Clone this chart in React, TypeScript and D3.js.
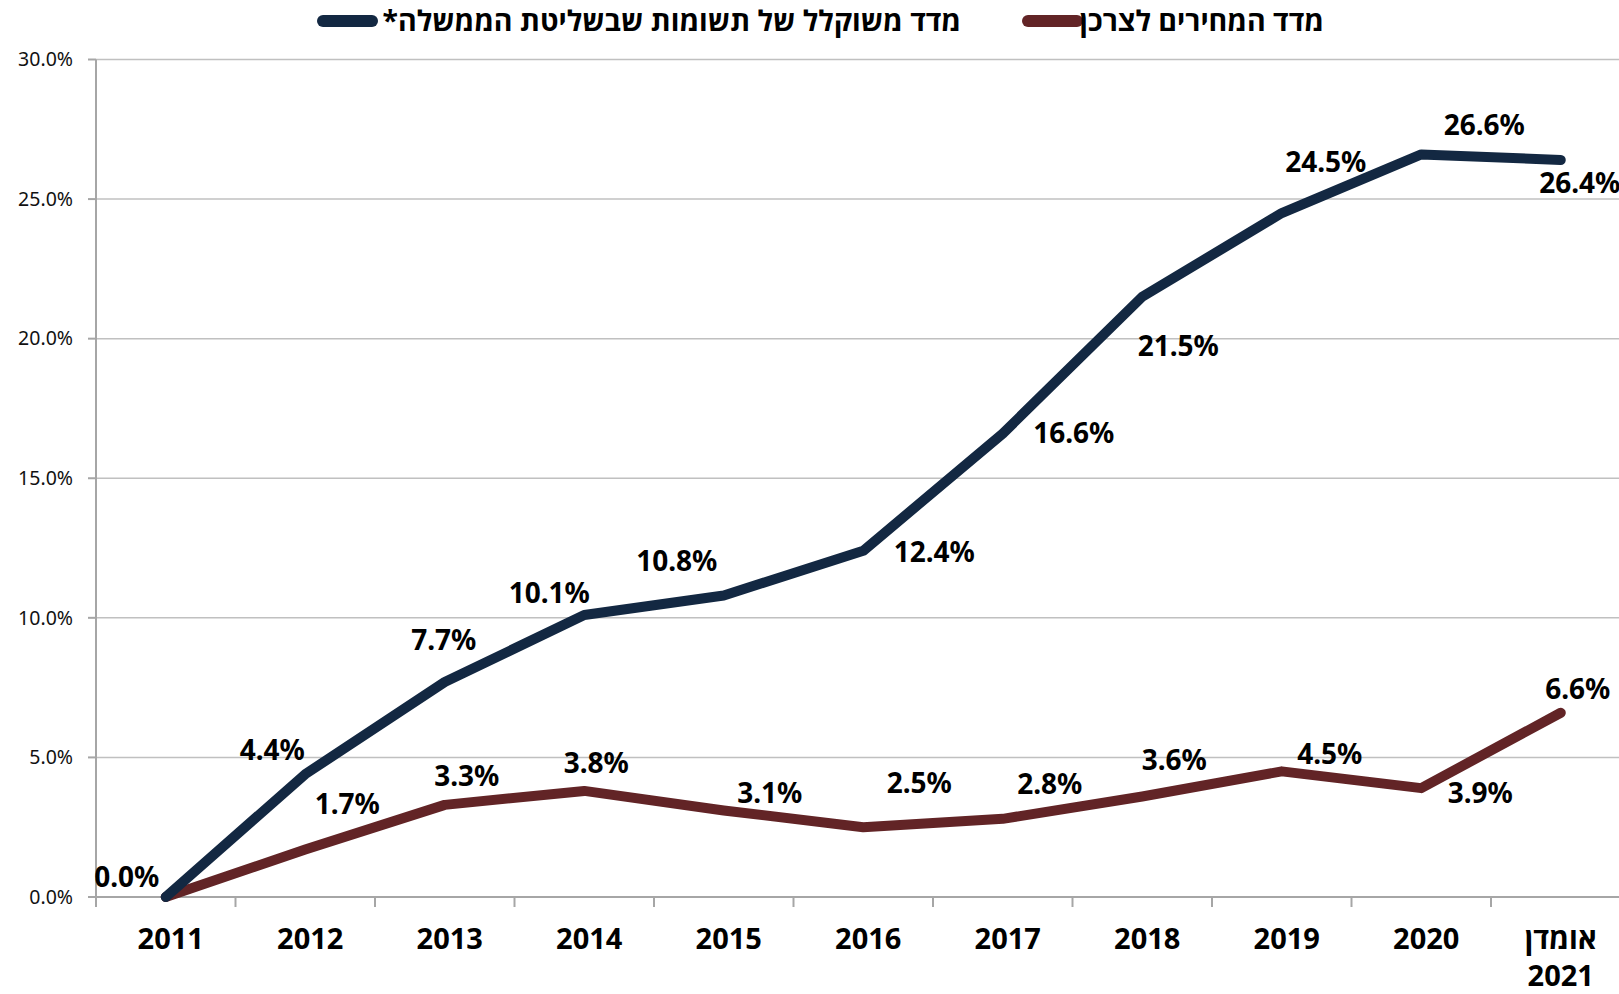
import React, { useEffect, useRef } from 'react';
import * as d3 from 'd3';

const categories = ['2011', '2012', '2013', '2014', '2015', '2016', '2017', '2018', '2019', '2020', 'אומדן 2021'];
const govIndex = [0.0, 4.4, 7.7, 10.1, 10.8, 12.4, 16.6, 21.5, 24.5, 26.6, 26.4];
const cpi = [0.0, 1.7, 3.3, 3.8, 3.1, 2.5, 2.8, 3.6, 4.5, 3.9, 6.6];
const yTicks = [0, 5, 10, 15, 20, 25, 30];
const govName = 'מדד משוקלל של תשומות שבשליטת הממשלה*';
const cpiName = 'מדד המחירים לצרכן';

// label offsets from each point (dx, dy) in px
const govLabelPos = [[-39, -20], [-33, -24], [-1, -42], [-35, -22], [-47, -34], [71, 1], [71, 0], [36, 49], [44, -51], [63, -29], [19, 23]];
const cpiLabelPos = [[0, 0], [42, -45], [22, -29], [12, -28], [46, -17], [56, -44], [47, -35], [32, -36], [48, -17], [59, 5], [17, -24]];

const NAVY = '#132842';
const MAROON = '#622426';
const FONT = '"Noto Sans", "Open Sans", "DejaVu Sans", sans-serif';

const W = 1619;
const H = 994;

const App = () => {
  const svgRef = useRef(null);

  useEffect(() => {
    const svg = d3.select(svgRef.current);
    svg.selectAll('*').remove();

    const left = 96;
    const top = 59.5;
    const bottom = 897;
    const step = 139.5;

    const x = d3.scaleBand().domain(categories).range([left, left + step * categories.length]);
    const y = d3.scaleLinear().domain([0, 30]).range([bottom, top]);
    const cx = (i) => x(categories[i]) + x.bandwidth() / 2;

    svg.append('rect').attr('width', W).attr('height', H).attr('fill', 'white');

    // gridlines
    svg.selectAll('line.grid')
      .data(yTicks)
      .enter()
      .append('line')
      .attr('x1', left)
      .attr('x2', left + step * categories.length)
      .attr('y1', (d) => y(d))
      .attr('y2', (d) => y(d))
      .attr('stroke', (d) => (d === 0 ? '#a6a6a6' : '#c0c0c0'))
      .attr('stroke-width', (d) => (d === 0 ? 2 : 1.5));

    // y axis
    svg.append('line')
      .attr('x1', left).attr('x2', left)
      .attr('y1', top).attr('y2', bottom + 10)
      .attr('stroke', '#a6a6a6').attr('stroke-width', 2);

    svg.selectAll('line.ytick')
      .data(yTicks)
      .enter()
      .append('line')
      .attr('x1', left - 8).attr('x2', left)
      .attr('y1', (d) => y(d)).attr('y2', (d) => y(d))
      .attr('stroke', '#a6a6a6').attr('stroke-width', 2);

    svg.selectAll('text.ylab')
      .data(yTicks)
      .enter()
      .append('text')
      .attr('x', 73)
      .attr('y', (d) => y(d))
      .attr('dy', '0.35em')
      .attr('text-anchor', 'end')
      .attr('font-family', FONT)
      .attr('font-size', 19.5)
      .attr('fill', '#111')
      .text((d) => d.toFixed(1) + '%');

    // x ticks at category boundaries
    svg.selectAll('line.xtick')
      .data(categories)
      .enter()
      .append('line')
      .attr('x1', (d) => x(d) + x.bandwidth()).attr('x2', (d) => x(d) + x.bandwidth())
      .attr('y1', bottom).attr('y2', bottom + 10)
      .attr('stroke', '#a6a6a6').attr('stroke-width', 2);

    const xl = svg.selectAll('text.xlab')
      .data(categories)
      .enter()
      .append('text')
      .attr('y', 949)
      .attr('text-anchor', 'middle')
      .attr('font-family', FONT)
      .attr('font-weight', 'bold')
      .attr('font-size', 29)
      .attr('fill', '#000');
    xl.each(function (d, i) {
      const parts = d.split(' ');
      const t = d3.select(this);
      const lx = cx(i) + (parts.length > 1 ? 0 : 5);
      parts.forEach((p, k) => {
        t.append('tspan').attr('x', lx).attr('dy', k === 0 ? 0 : 37).text(p);
      });
    });

    // lines
    const line = d3.line()
      .x((d, i) => cx(i))
      .y((d) => y(d));

    svg.append('path')
      .datum(cpi)
      .attr('d', line)
      .attr('fill', 'none')
      .attr('stroke', MAROON)
      .attr('stroke-width', 10)
      .attr('stroke-linecap', 'round')
      .attr('stroke-linejoin', 'round');

    svg.append('path')
      .datum(govIndex)
      .attr('d', line)
      .attr('fill', 'none')
      .attr('stroke', NAVY)
      .attr('stroke-width', 10)
      .attr('stroke-linecap', 'round')
      .attr('stroke-linejoin', 'round');

    // data labels
    const addLabels = (data, pos, from) => {
      svg.append('g')
        .selectAll('text')
        .data(data.slice(from))
        .enter()
        .append('text')
        .attr('x', (d, i) => cx(i + from) + pos[i + from][0])
        .attr('y', (d, i) => y(d) + pos[i + from][1])
        .attr('dy', '0.35em')
        .attr('text-anchor', 'middle')
        .attr('font-family', FONT)
        .attr('font-weight', 'bold')
        .attr('font-size', 28)
        .attr('fill', '#000')
        .text((d) => d.toFixed(1) + '%');
    };
    addLabels(cpi, cpiLabelPos, 1);
    addLabels(govIndex, govLabelPos, 0);

    // legend
    const legend = [
      { name: govName, color: NAVY, x1: 323, x2: 372, textRight: 961 },
      { name: cpiName, color: MAROON, x1: 1028, x2: 1077, textRight: 1324 },
    ];
    legend.forEach((l) => {
      svg.append('line')
        .attr('x1', l.x1).attr('x2', l.x2)
        .attr('y1', 21).attr('y2', 21)
        .attr('stroke', l.color)
        .attr('stroke-width', 12)
        .attr('stroke-linecap', 'round');
      svg.append('text')
        .attr('x', l.textRight)
        .attr('y', 21)
        .attr('dy', '0.35em')
        .attr('direction', 'rtl')
        .attr('text-anchor', 'start')
        .attr('font-family', FONT)
        .attr('font-weight', 'bold')
        .attr('font-size', 28.5)
        .attr('fill', '#000')
        .text(l.name);
    });
  }, []);

  return (
    <svg ref={svgRef} width={W} height={H} style={{ position: 'absolute', left: 0, top: 0 }}></svg>
  );
};

export default App;
